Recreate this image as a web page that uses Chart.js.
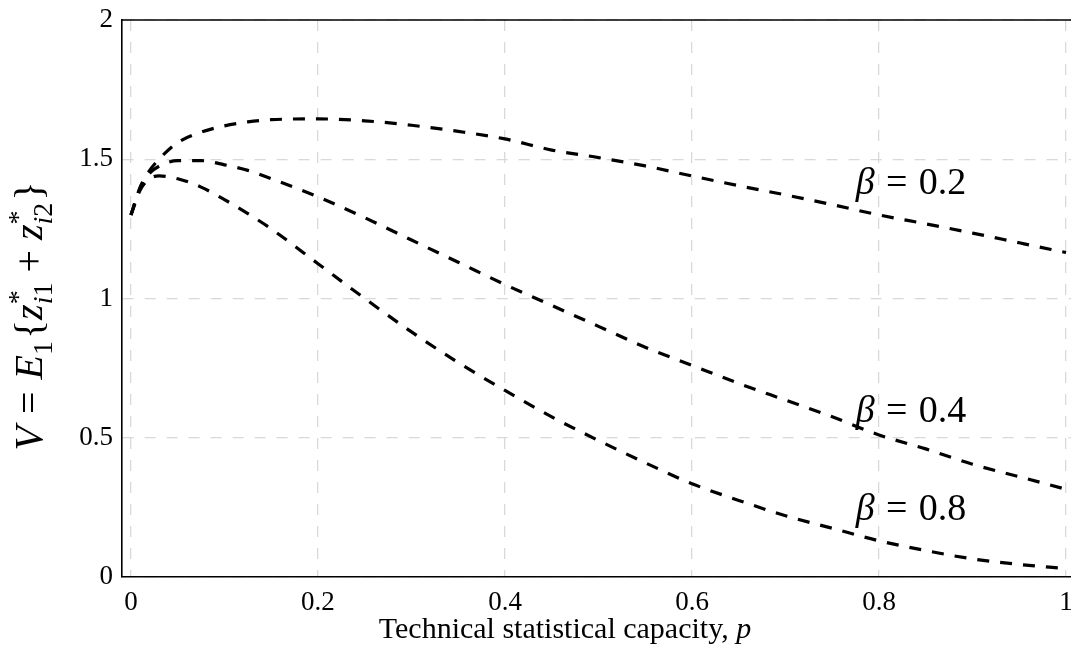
<!DOCTYPE html>
<html>
<head>
<meta charset="utf-8">
<script src="https://cdn.jsdelivr.net/npm/chart.js@4.4.1/dist/chart.umd.min.js"></script>
<style>
  html, body { margin: 0; padding: 0; background: #fff; overflow: hidden; }
</style>
</head>
<body>
<canvas id="myChart" width="1071" height="649"></canvas>
<script>
// p values (technical statistical capacity)
const pValues = [0, 0.01, 0.02, 0.03, 0.05, 0.075, 0.1, 0.125, 0.15, 0.2, 0.25, 0.3, 0.35,
                 0.4, 0.45, 0.5, 0.55, 0.6, 0.65, 0.7, 0.75, 0.8, 0.85, 0.9, 0.95, 1.0];

// V for each beta
const vBeta02 = [1.30, 1.40, 1.46, 1.50, 1.56, 1.597, 1.62, 1.634, 1.642, 1.645, 1.638, 1.622, 1.60,
                 1.573, 1.533, 1.506, 1.476, 1.44, 1.405, 1.372, 1.337, 1.30, 1.268, 1.235, 1.20, 1.165];
const vBeta04 = [1.30, 1.40, 1.45, 1.475, 1.495, 1.495, 1.48, 1.46, 1.43, 1.365, 1.29, 1.21, 1.13,
                 1.05, 0.975, 0.90, 0.825, 0.76, 0.695, 0.635, 0.575, 0.51, 0.46, 0.405, 0.36, 0.315];
const vBeta08 = [1.30, 1.39, 1.43, 1.44, 1.43, 1.40, 1.355, 1.305, 1.25, 1.125, 1.00, 0.88, 0.77,
                 0.67, 0.575, 0.49, 0.41, 0.335, 0.275, 0.22, 0.175, 0.13, 0.095, 0.065, 0.045, 0.03];

const xTicks = [0, 0.2, 0.4, 0.6, 0.8, 1];
const yTicks = [0, 0.5, 1, 1.5, 2];

// curve labels
const labelText = ['0.2', '0.4', '0.8'];
const labelP = [0.775, 0.775, 0.775];
const labelV = [1.42, 0.60, 0.25];

const serif = '"Liberation Serif", "DejaVu Serif", serif';
function fnt(size, it) { return (it ? 'italic ' : '') + size + 'px ' + serif; }

// tiny math text helper: tokens are {run, sub, sup}; run items [text, italic] or gap number (em)
function runWidth(ctx, run, size) {
    let w = 0;
    for (const r of run) {
        if (typeof r === 'number') { w += r * size; continue; }
        ctx.font = fnt(size, r[1]);
        w += ctx.measureText(r[0]).width;
    }
    return w;
}
function drawRun(ctx, run, x, y, size) {
    for (const r of run) {
        if (typeof r === 'number') { x += r * size; continue; }
        ctx.font = fnt(size, r[1]);
        ctx.fillText(r[0], x, y);
        x += ctx.measureText(r[0]).width;
    }
    return x;
}
function tokenWidth(ctx, tok, size) {
    const s = size * 0.7;
    let w = runWidth(ctx, tok.run, size);
    let extra = 0;
    if (tok.sub) extra = Math.max(extra, runWidth(ctx, tok.sub, s));
    if (tok.sup) extra = Math.max(extra, runWidth(ctx, tok.sup, s));
    return w + extra;
}
function drawMath(ctx, tokens, cx, cy, size, align) {
    let total = 0;
    for (const t of tokens) total += tokenWidth(ctx, t, size);
    let x = align === 'left' ? cx : cx - total / 2;
    ctx.textBaseline = 'alphabetic';
    ctx.textAlign = 'left';
    const base = cy + size * 0.33;
    for (const t of tokens) {
        const w = tokenWidth(ctx, t, size);
        const x2 = drawRun(ctx, t.run, x, base, size);
        if (t.sup) drawRun(ctx, t.sup, x2, base - size * 0.38, size * 0.7);
        if (t.sub) drawRun(ctx, t.sub, x2, base + size * 0.25, size * 0.7);
        x += w;
    }
}

const yTitle = [
    { run: [['V', 1], 0.3, ['=', 0], 0.3, ['E', 1]], sub: [['1', 0]] },
    { run: [0.05, ['{', 0], ['z', 1]], sup: [['*', 0]], sub: [['i', 1], ['1', 0]] },
    { run: [0.25, ['+', 0], 0.25, ['z', 1]], sup: [['*', 0]], sub: [['i', 1], ['2', 0]] },
    { run: [0.05, ['}', 0]] }
];
const xTitle = [{ run: [['Technical statistical capacity, ', 0], ['p', 1]] }];

const decorations = {
    id: 'decorations',
    afterDraw(chart) {
        const ctx = chart.ctx;
        const a = chart.chartArea;
        const xs = chart.scales.x, ys = chart.scales.y;
        ctx.save();
        // top frame line
        ctx.strokeStyle = '#000';
        ctx.lineWidth = 1.6;
        ctx.beginPath();
        ctx.moveTo(a.left, a.top);
        ctx.lineTo(a.right, a.top);
        ctx.stroke();
        ctx.fillStyle = '#000';
        // curve labels
        for (let i = 0; i < labelText.length; i++) {
            const tok = [{ run: [['β', 1], 0.3, ['=', 0], 0.3, [labelText[i], 0]] }];
            drawMath(ctx, tok, xs.getPixelForValue(labelP[i]), ys.getPixelForValue(labelV[i]), 38, 'left');
        }
        // axis titles
        drawMath(ctx, xTitle, 565, 628, 30);
        ctx.translate(29, 316);
        ctx.rotate(-Math.PI / 2);
        drawMath(ctx, yTitle, 0, 0, 40);
        ctx.restore();
    }
};

function curve(values) {
    return {
        data: pValues.map((p, i) => ({ x: p, y: values[i] })),
        borderColor: '#000',
        borderWidth: 3.2,
        borderDash: [12, 11],
        pointRadius: 0,
        fill: false,
        cubicInterpolationMode: 'monotone'
    };
}

const tickFont = { family: serif, size: 27 };
const ctx = document.getElementById('myChart').getContext('2d');
const myChart = new Chart(ctx, {
    type: 'line',
    data: { datasets: [curve(vBeta02), curve(vBeta04), curve(vBeta08)] },
    options: {
        responsive: false,
        animation: false,
        layout: { padding: { top: 20, right: 0, left: 0, bottom: 0 } },
        plugins: { legend: { display: false }, tooltip: { enabled: false } },
        scales: {
            x: {
                type: 'linear',
                min: -0.0096,
                max: 1.0053,
                afterBuildTicks: s => { s.ticks = xTicks.map(v => ({ value: v })); },
                afterFit: s => { s.height = 72; s.paddingLeft = 0; s.paddingRight = 0; },
                ticks: { font: tickFont, color: '#000', padding: 10, maxRotation: 0,
                         callback: v => String(v) },
                grid: { color: '#d9d9d9', lineWidth: 1.3, drawTicks: false },
                border: { color: '#000', width: 1.6, dash: [11, 11] }
            },
            y: {
                type: 'linear',
                min: 0,
                max: 2,
                afterBuildTicks: s => { s.ticks = yTicks.map(v => ({ value: v })); },
                afterFit: s => { s.width = 122; s.paddingTop = 0; s.paddingBottom = 0; },
                ticks: { font: tickFont, color: '#000', padding: 9,
                         callback: v => String(v) },
                grid: { color: '#d9d9d9', lineWidth: 1.3, drawTicks: false },
                border: { color: '#000', width: 1.6, dash: [11, 11] }
            }
        }
    },
    plugins: [decorations]
});
</script>
</body>
</html>
